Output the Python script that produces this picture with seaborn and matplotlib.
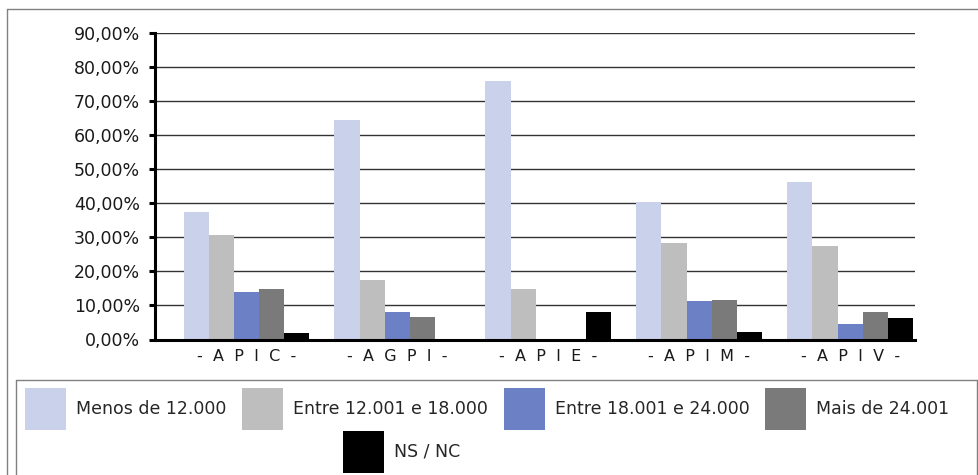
import matplotlib
matplotlib.use("Agg")
import matplotlib.pyplot as plt
import seaborn as sns
import pandas as pd
from matplotlib.patches import Patch
from matplotlib.lines import Line2D
from matplotlib.ticker import FuncFormatter

# ---- data ----
categories = ["- A P I C -", "- A G P I -", "- A P I E -", "- A P I M -", "- A P I V -"]
series = ["Menos de 12.000", "Entre 12.001 e 18.000", "Entre 18.001 e 24.000",
          "Mais de 24.001", "NS / NC"]
menos_12000 = [37.5, 64.4, 75.8, 40.3, 46.2]
entre_12001_18000 = [30.7, 17.5, 14.8, 28.3, 27.4]
entre_18001_24000 = [13.9, 8.1, 0.0, 11.3, 4.5]
mais_24001 = [14.8, 6.6, 0.0, 11.6, 8.1]
ns_nc = [1.9, 0.0, 8.1, 2.2, 6.3]
y_ticks = [0, 10, 20, 30, 40, 50, 60, 70, 80, 90]
colors = ["#C9D1EB", "#BEBEBE", "#6C80C6", "#7A7A7A", "#000000"]

values = [menos_12000, entre_12001_18000, entre_18001_24000, mais_24001, ns_nc]
rows = []
for s, vals in zip(series, values):
    for c, v in zip(categories, vals):
        rows.append({"categoria": c, "serie": s, "valor": v})
df = pd.DataFrame(rows)

sns.set_theme(style="white")
plt.rcParams["font.family"] = ["DejaVu Sans"]

W, H = 979, 475
fig = plt.figure(figsize=(W / 100, H / 100), dpi=100)
fig.patch.set_facecolor("white")

left, right, top, bottom = 155.5, 915, 32.7, 339.5
ax = fig.add_axes([left / W, 1 - bottom / H, (right - left) / W, (bottom - top) / H])

sns.barplot(data=df, x="categoria", y="valor", hue="serie", order=categories,
            hue_order=series, palette=colors, saturation=1, width=0.834, gap=0,
            linewidth=0, edgecolor="none", legend=False, ax=ax)

ax.set_xlim(-0.603, 4.43)
ax.set_ylim(0, 90)
ax.set_yticks(y_ticks)
ax.yaxis.set_major_formatter(FuncFormatter(lambda v, p: f"{v:.2f}%".replace(".", ",")))
ax.set_xticks(range(len(categories)))
ax.set_xticklabels([c.replace(" ", "  ") for c in categories])
ax.set_xlabel("")
ax.set_ylabel("")

ax.yaxis.grid(True, color="#333333", linewidth=1.0)
ax.xaxis.grid(False)
ax.set_axisbelow(True)
for sp in ["top", "right"]:
    ax.spines[sp].set_visible(False)
for sp in ["left", "bottom"]:
    ax.spines[sp].set_linewidth(2.2)
    ax.spines[sp].set_color("black")
    ax.spines[sp].set_zorder(5)

ax.tick_params(axis="y", length=4, width=2.2, color="black", pad=7,
               labelsize=12.5, labelcolor="#1a1a1a", left=True)
ax.tick_params(axis="x", length=0, pad=7, labelsize=11.5, labelcolor="#1a1a1a")


def fig_line(x0, y0, x1, y1):
    fig.add_artist(Line2D([x0 / W, x1 / W], [1 - y0 / H, 1 - y1 / H],
                          transform=fig.transFigure, color="#808080", linewidth=1.0))


# outer border (top and left visible)
fig_line(7.5, 8.5, W + 5, 8.5)
fig_line(7.5, 8.5, 7.5, H + 5)
# legend box (top, left, right visible)
fig_line(15.5, 379.5, 977.5, 379.5)
fig_line(15.5, 379.5, 15.5, H + 5)
fig_line(977.5, 379.5, 977.5, H + 5)

handles = [Patch(facecolor=c, edgecolor="none") for c in colors]
leg_kw = dict(frameon=False, fontsize=12.5, handlelength=2.36, handleheight=3.32,
              handletextpad=0.58, borderpad=0, borderaxespad=0, loc="upper left")
fig.legend(handles[:4], series[:4], ncol=4, columnspacing=0.9,
           bbox_to_anchor=(25 / W, 1 - 388 / H), **leg_kw)
fig.legend(handles[4:], series[4:], ncol=1,
           bbox_to_anchor=(343 / W, 1 - 431 / H), **leg_kw)

fig.savefig("out.png", dpi=100)
